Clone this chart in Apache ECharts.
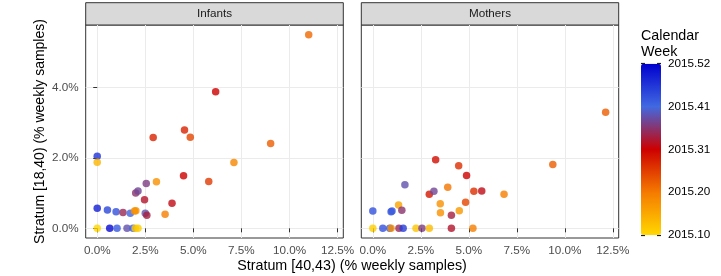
<!DOCTYPE html>
<html>
<head>
<meta charset="utf-8">
<script src="https://cdn.jsdelivr.net/npm/echarts@6/dist/echarts.min.js"></script>
<style>
  html, body { margin: 0; padding: 0; background: #fff; }
  #chart { width: 721px; height: 276px; }
</style>
</head>
<body>
<div id="chart"></div>
<script>
'use strict';
// facet values (percent of weekly samples)
var panels = ['Infants', 'Mothers'];

var infantsX = [11.0, 6.16, 4.54, 4.84, 2.91, 9.02, 0, 0, 7.11, 4.49, 5.8, 3.08, 2.55, 2.0, 2.12, 2.46, 3.89,
  0, 0.53, 0.98, 1.34, 1.72, 1.94, 2.01, 2.5, 2.58, 3.53, 0, 0.65, 1.03, 1.55, 1.86, 1.98, 2.12];
var infantsY = [5.5, 3.88, 2.79, 2.59, 2.58, 2.41, 2.05, 1.88, 1.87, 1.49, 1.33, 1.32, 1.27, 1.0, 1.06, 0.81, 0.71,
  0.57, 0.52, 0.47, 0.45, 0.43, 0.49, 0.5, 0.43, 0.37, 0.4, 0, 0, 0, 0, 0, 0, 0];
var infantsWeek = [2015.22, 2015.31, 2015.28, 2015.25, 2015.28, 2015.23, 2015.47, 2015.14, 2015.19, 2015.31, 2015.26,
  2015.18, 2015.37, 2015.36, 2015.38, 2015.33, 2015.32, 2015.49, 2015.45, 2015.44, 2015.35, 2015.42, 2015.18, 2015.18,
  2015.39, 2015.34, 2015.2, 2015.1, 2015.51, 2015.43, 2015.39, 2015.42, 2015.12, 2015.11];

var mothersX = [12.12, 9.37, 3.27, 4.47, 4.88, 1.67, 3.9, 2.94, 3.18, 5.26, 5.67, 6.83, 1.34, 3.51, 4.83, 0, 0.95, 1.0,
  1.51, 3.52, 4.5, 4.09, 0, 0.52, 0.88, 0.95, 1.36, 1.58, 2.25, 2.56, 2.94, 4.09, 5.21];
var mothersY = [3.3, 1.81, 1.95, 1.78, 1.5, 1.24, 1.17, 0.97, 1.05, 1.05, 1.06, 0.97, 0.66, 0.7, 0.74, 0.49, 0.47, 0.49,
  0.51, 0.44, 0.5, 0.37, 0, 0, 0, 0, 0, 0, 0, 0, 0, 0, 0];
var mothersWeek = [2015.23, 2015.23, 2015.30, 2015.27, 2015.31, 2015.39, 2015.21, 2015.29, 2015.38, 2015.27, 2015.32,
  2015.2, 2015.16, 2015.18, 2015.25, 2015.44, 2015.44, 2015.43, 2015.36, 2015.18, 2015.17, 2015.34, 2015.11, 2015.44,
  2015.43, 2015.18, 2015.35, 2015.46, 2015.12, 2015.37, 2015.13, 2015.33, 2015.2];

var xTicks = [0, 2.5, 5, 7.5, 10, 12.5];
var yTicks = [0, 2, 4];
var legendLabels = ['2015.10', '2015.20', '2015.31', '2015.41', '2015.52'];
var weekColors = ['#FFD700', '#F57A00', '#CD0000', '#4169E1', '#0000CD'];

function zip(xs, ys, ws) {
  var out = [];
  for (var i = 0; i < xs.length; i++) out.push([xs[i], ys[i], ws[i]]);
  return out;
}

var FONT = 'Liberation Sans, Arial, sans-serif';
var grids = [
  {left: 85.7, top: 25, width: 257.6, height: 213},
  {left: 361.3, top: 25, width: 257.4, height: 213}
];

function xAxisFor(i) {
  return {
    type: 'value', gridIndex: i, min: -0.6, max: 12.8,
    axisLine: {show: false},
    axisTick: {show: true, length: 4, lineStyle: {color: '#333333'}, customValues: xTicks},
    axisLabel: {customValues: xTicks, margin: 7, color: '#4D4D4D', fontSize: 11.7, fontFamily: FONT,
      formatter: function (v) { return v.toFixed(1) + '%'; }},
    splitLine: {show: true, lineStyle: {color: '#EBEBEB', width: 1}}
  };
}
function yAxisFor(i) {
  return {
    type: 'value', gridIndex: i, min: -0.275, max: 5.775,
    axisLine: {show: false},
    axisTick: {show: i === 0, length: 4, lineStyle: {color: '#333333'}, customValues: yTicks},
    axisLabel: {show: i === 0, customValues: yTicks, margin: 7, color: '#4D4D4D', fontSize: 11.7, fontFamily: FONT,
      formatter: function (v) { return v.toFixed(1) + '%'; }},
    splitLine: {show: true, lineStyle: {color: '#EBEBEB', width: 1}},
    name: i === 0 ? 'Stratum [18,40) (% weekly samples)' : '',
    nameLocation: 'middle', nameGap: 39,
    nameTextStyle: {color: '#000', fontSize: 14, fontFamily: FONT}
  };
}

var graphics = [];
panels.forEach(function (p, i) {
  var g = grids[i];
  graphics.push({type: 'rect', shape: {x: g.left, y: 2.7, width: g.width, height: 22.3},
    style: {fill: '#D9D9D9', stroke: '#333333', lineWidth: 1}});
  graphics.push({type: 'text', x: g.left + g.width / 2, y: 14,
    style: {text: p, fill: '#1A1A1A', font: '11.7px ' + FONT, textAlign: 'center', textVerticalAlign: 'middle'}});
});
graphics.push({type: 'text', x: 352, y: 266,
  style: {text: 'Stratum [40,43) (% weekly samples)', fill: '#000', font: '14.3px ' + FONT,
    textAlign: 'center', textVerticalAlign: 'middle'}});
graphics.push({type: 'text', x: 641, y: 44,
  style: {text: 'Calendar\nWeek', fill: '#000', font: '14.3px ' + FONT, lineHeight: 16,
    textAlign: 'left', textVerticalAlign: 'middle'}});

var chart = echarts.init(document.getElementById('chart'), null, {renderer: 'canvas'});
chart.setOption({
  animation: false,
  backgroundColor: '#fff',
  grid: [
    {left: grids[0].left, top: grids[0].top, width: grids[0].width, height: grids[0].height,
      show: true, borderColor: '#333333', borderWidth: 1, backgroundColor: '#fff'},
    {left: grids[1].left, top: grids[1].top, width: grids[1].width, height: grids[1].height,
      show: true, borderColor: '#333333', borderWidth: 1, backgroundColor: '#fff'},
    // colour bar tick labels
    {left: 641, top: 63.7, width: 20, height: 171.3, show: false}
  ],
  xAxis: [xAxisFor(0), xAxisFor(1), {type: 'value', gridIndex: 2, show: false}],
  yAxis: [yAxisFor(0), yAxisFor(1),
    {type: 'value', gridIndex: 2, min: 0, max: 4, interval: 1, position: 'left',
      axisLine: {show: false}, splitLine: {show: false}, axisLabel: {show: false},
      axisTick: {show: true, inside: true, length: 4, lineStyle: {color: '#1A1A1A', width: 1.2}}},
    {type: 'value', gridIndex: 2, min: 0, max: 4, interval: 1, position: 'right',
      axisLine: {show: false}, splitLine: {show: false},
      axisTick: {show: true, inside: true, length: 4, lineStyle: {color: '#1A1A1A', width: 1.2}},
      axisLabel: {margin: 7, color: '#000', fontSize: 11.7, fontFamily: FONT,
        formatter: function (v) { return legendLabels[v]; }}}
  ],
  visualMap: {
    type: 'continuous', min: 2015.10, max: 2015.52, dimension: 2, seriesIndex: [0, 1],
    left: 641, top: 63.7, itemWidth: 20, itemHeight: 171.3, padding: 0,
    calculable: false, text: null, showLabel: false, hoverLink: false,
    inRange: {color: weekColors}
  },
  graphic: graphics,
  series: [
    {type: 'scatter', xAxisIndex: 0, yAxisIndex: 0, symbolSize: 7.5,
      data: zip(infantsX, infantsY, infantsWeek)},
    {type: 'scatter', xAxisIndex: 1, yAxisIndex: 1, symbolSize: 7.5,
      data: zip(mothersX, mothersY, mothersWeek)}
  ]
});
</script>
</body>
</html>
